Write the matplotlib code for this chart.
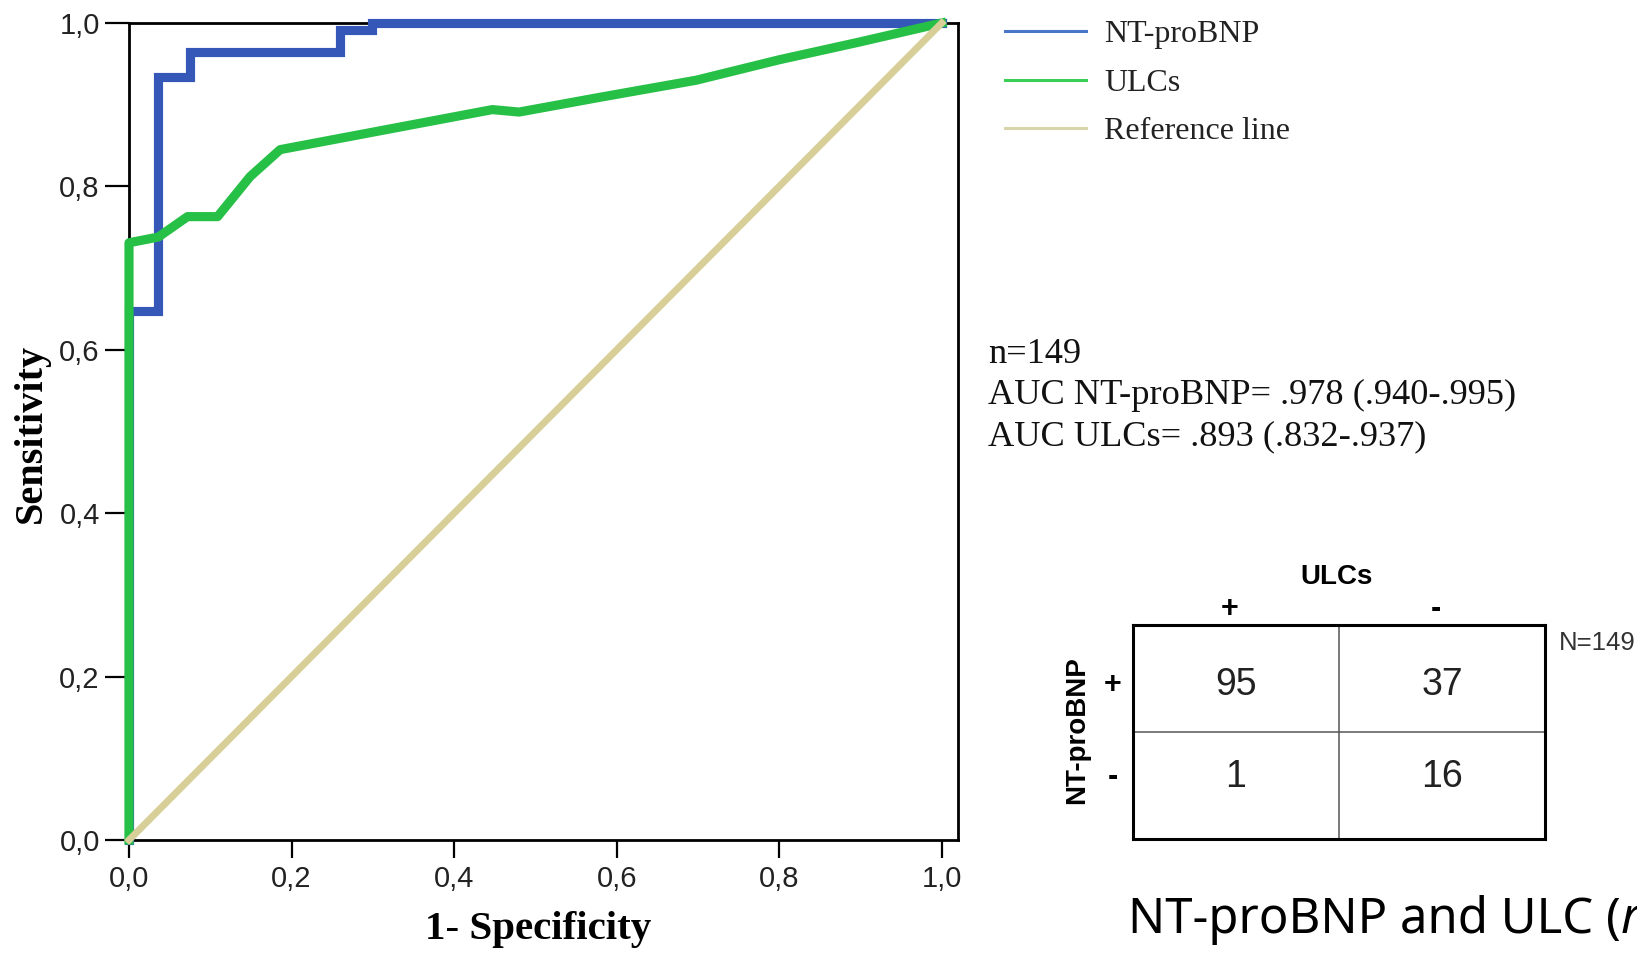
import numpy as np
import matplotlib
matplotlib.use("Agg")
import matplotlib.pyplot as plt
from matplotlib.lines import Line2D

# ---------------- data ----------------
fpr_ntprobnp = [0.0, 0.0, 0.036, 0.036, 0.075, 0.075, 0.259, 0.259, 0.299, 0.299, 1.0]
tpr_ntprobnp = [0.0, 0.647, 0.647, 0.934, 0.934, 0.965, 0.965, 0.991, 0.991, 1.0, 1.0]

fpr_ulcs = [0.0, 0.0, 0.036, 0.072, 0.109, 0.149, 0.186, 0.447, 0.480, 0.579, 0.698, 0.80, 0.90, 1.0]
tpr_ulcs = [0.0, 0.731, 0.738, 0.763, 0.763, 0.812, 0.845, 0.894, 0.891, 0.909, 0.930, 0.955, 0.977, 1.0]

ref_line = [0.0, 1.0]

series_names = ["NT-proBNP", "ULCs", "Reference line"]
ticks = [0.0, 0.2, 0.4, 0.6, 0.8, 1.0]
tick_labels = ["0,0", "0,2", "0,4", "0,6", "0,8", "1,0"]

auc_lines = ["n=149", "AUC NT-proBNP= .978 (.940-.995)", "AUC ULCs= .893 (.832-.937)"]

table_counts = [[95, 37], [1, 16]]   # rows: NT-proBNP +/-, cols: ULCs +/-
table_signs = ["+", "-"]
table_total = "N=149"
caption = "NT-proBNP and ULC ("

# ---------------- figure ----------------
W, H = 1637, 955
fig = plt.figure(figsize=(W / 100, H / 100), dpi=100)

def fx(p):  # pixel x -> figure fraction
    return p / W

def fy(p):  # pixel y (from top) -> figure fraction
    return 1 - p / H

c_blue = "#3558b8"
c_green = "#27c047"
c_khaki = "#d8cf98"

ax = fig.add_axes([fx(129), fy(840), fx(958) - fx(129), fy(23) - fy(840)])
ax.plot(fpr_ntprobnp, tpr_ntprobnp, color=c_blue, lw=6.6, zorder=3, clip_on=False,
        solid_joinstyle="miter")
ax.plot(fpr_ulcs, tpr_ulcs, color=c_green, lw=6.6, zorder=4, clip_on=False)
ax.plot(ref_line, ref_line, color=c_khaki, lw=5.0, zorder=5, clip_on=False)

ax.set_xlim(0, 1.02)
ax.set_ylim(0, 1.0)
for s in ax.spines.values():
    s.set_linewidth(2.0)
    s.set_color("black")
    s.set_zorder(2)

ax.set_xticks(ticks)
ax.set_yticks(ticks)
ax.set_xticklabels(tick_labels, fontfamily="Liberation Sans", fontsize=21, color="#222222")
ax.set_yticklabels(tick_labels, fontfamily="Liberation Sans", fontsize=21, color="#222222")
ax.tick_params(axis="y", length=17, width=1.6, pad=4)
ax.tick_params(axis="x", length=13, width=1.6, pad=5)

fig.text(fx(31), fy(433), "Sensitivity", rotation=90, ha="center", va="center",
         fontfamily="Liberation Serif", fontweight="bold", fontsize=29)
fig.text(fx(538), fy(929), "1- Specificity", ha="center", va="center",
         fontfamily="Liberation Serif", fontweight="bold", fontsize=29.5)

# legend
handles = [Line2D([], [], color="#4a76c9", lw=2.2),
           Line2D([], [], color="#3ccf58", lw=2.2),
           Line2D([], [], color="#d9d5aa", lw=2.2)]
leg = fig.legend(handles, series_names, loc="upper left",
                 bbox_to_anchor=(fx(1005), fy(20)), frameon=False, borderpad=0,
                 borderaxespad=0, handlelength=2.55, handletextpad=0.55, labelspacing=0.6,
                 prop={"family": "Liberation Serif", "size": 23})
for t in leg.get_texts():
    t.set_color("#222222")

# AUC text
for i, line in enumerate(auc_lines):
    fig.text(fx(988), fy(363 + 41 * i), line, ha="left", va="baseline",
             fontfamily="Liberation Serif", fontsize=26.2, color="#111111")

# 2x2 table
tx = fig.add_axes([fx(1133), fy(839), fx(1545) - fx(1133), fy(625) - fy(839)])
tx.set_xlim(0, 2)
tx.set_ylim(2, 0)
tx.set_xticks([])
tx.set_yticks([])
for s in tx.spines.values():
    s.set_linewidth(2.2)
tx.axvline(1, color="#555555", lw=1.1)
tx.axhline(1, color="#555555", lw=1.1)
row_y = [0.56, 1.42]
for r in range(2):
    for c in range(2):
        tx.text(c + 0.5, row_y[r], str(table_counts[r][c]), ha="center", va="center",
                fontfamily="Liberation Sans", fontsize=27, color="#222222")
for k, sgn in enumerate(table_signs):
    tx.text(k + 0.47, -0.15, sgn, ha="center", va="center", fontfamily="Liberation Sans",
            fontweight="bold", fontsize=22, clip_on=False)
    tx.text(-0.10, row_y[k], sgn, ha="center", va="center", fontfamily="Liberation Sans",
            fontweight="bold", fontsize=22, clip_on=False)
tx.text(0.99, -0.45, "ULCs", ha="center", va="center", fontfamily="Liberation Sans",
        fontweight="bold", fontsize=20, clip_on=False)
tx.text(-0.27, 0.98, "NT-proBNP", rotation=90, ha="center", va="center",
        fontfamily="Liberation Sans", fontweight="bold", fontsize=20, clip_on=False)
tx.text(2.065, 0.17, table_total, ha="left", va="center", fontfamily="Liberation Sans",
        fontsize=18.5, color="#333333", clip_on=False)

# caption (cut at the right edge in the source)
cap = fig.text(fx(1128), fy(933), caption, ha="left", va="baseline",
               fontfamily="Noto Sans", fontsize=35.3, color="black")
fig.canvas.draw()
bb = cap.get_window_extent()
fig.text(bb.x1 / W, fy(933), "r", ha="left", va="baseline",
         fontfamily="Noto Sans", fontstyle="italic", fontsize=35.3, color="black")

fig.savefig("out.png", dpi=100, facecolor="white")
